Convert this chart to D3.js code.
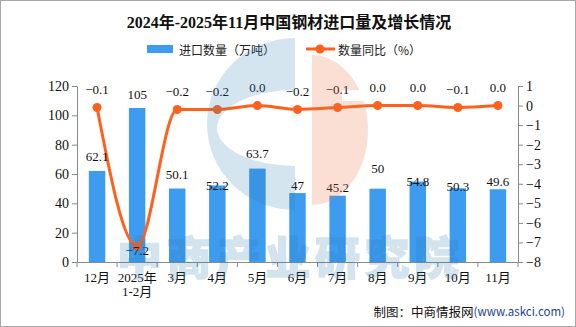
<!DOCTYPE html>
<html><head><meta charset="utf-8">
<script src="https://cdn.jsdelivr.net/npm/d3@7"></script>
<style>html,body{margin:0;padding:0;background:#fff;}svg{display:block}</style>
</head><body><svg id="c" width="576" height="327"></svg>
<script>
// ---- data ----
const categories = ["12月","2025年\n1-2月","3月","4月","5月","6月","7月","8月","9月","10月","11月"];
const importVolume = [62.1,105,50.1,52.2,63.7,47,45.2,50,54.8,50.3,49.6];
const yoyChange = [-0.1,-7.2,-0.2,-0.2,0.0,-0.2,-0.1,0.0,0.0,-0.1,0.0];
const leftTicks = [0,20,40,60,80,100,120];
const rightTicks = [1,0,-1,-2,-3,-4,-5,-6,-7,-8];
const seriesNames = ["进口数量（万吨）","数量同比（%）"];
const titleText = "2024年-2025年11月中国钢材进口量及增长情况";
// label layout nudges (px, vertical offset of each bar label centre from bar top)
const barLabelNudge = [-14,-14,-14,0,-15,-8,-8,-20,0,-2,-8];

// ---- setup ----
const W=576,H=327;
const m={l:77,r:518,t:86,b:262};
const NUM="'Liberation Serif','Noto Sans CJK SC',serif";
const CJK="'Noto Sans CJK SC',sans-serif";
const BAR="#3e9cf0", LINE="#ff611d", AX="#8a8a8a";
const svg=d3.select("#c");

svg.append("rect").attr("x",0.5).attr("y",0.5).attr("width",W-1).attr("height",H-1)
  .attr("fill","#fff").attr("stroke","#a8a8a8");

const x=d3.scaleBand().domain(categories).range([m.l,m.r]);
const yL=d3.scaleLinear().domain([0,120]).range([m.b,m.t]);
const yR=d3.scaleLinear().domain([-8,1]).range([m.b,m.t]);
const cx=c=>x(c)+x.bandwidth()/2;
const bw=x.bandwidth()*0.41;

// title
svg.append("text").attr("x",289).attr("y",22).attr("text-anchor","middle")
  .attr("dominant-baseline","central").attr("font-family",NUM).attr("font-weight","bold")
  .attr("font-size",16).attr("fill","#111").text(titleText);

// legend
svg.append("rect").attr("x",147).attr("y",45).attr("width",26).attr("height",8).attr("fill",BAR);
svg.append("text").attr("x",179).attr("y",49).attr("dominant-baseline","central")
  .attr("font-family",CJK).attr("font-size",12).attr("fill","#222").text(seriesNames[0]);
svg.append("line").attr("x1",306).attr("x2",335).attr("y1",49).attr("y2",49)
  .attr("stroke",LINE).attr("stroke-width",3);
svg.append("circle").attr("cx",320).attr("cy",49).attr("r",4.5).attr("fill",LINE);
svg.append("text").attr("x",338).attr("y",49).attr("dominant-baseline","central")
  .attr("font-family",CJK).attr("font-size",12).attr("fill","#222").text(seriesNames[1]);

// left axis
const gl=svg.append("g").attr("transform",`translate(${m.l},0)`)
  .call(d3.axisLeft(yL).tickValues(leftTicks).tickSize(5).tickSizeOuter(0).tickPadding(3));
// right axis
const gr=svg.append("g").attr("transform",`translate(${m.r},0)`)
  .call(d3.axisRight(yR).tickValues(rightTicks).tickSize(5).tickSizeOuter(0).tickPadding(3));
[gl,gr].forEach(g=>{
  g.selectAll("path,line").attr("stroke",AX);
  g.selectAll("text").attr("font-family",NUM).attr("font-size",14).attr("fill","#111");
});

// bars
svg.append("g").selectAll("rect").data(importVolume).join("rect")
  .attr("x",(d,i)=>cx(categories[i])-bw/2).attr("width",bw)
  .attr("y",d=>yL(d)).attr("height",d=>yL(0)-yL(d)).attr("fill",BAR);

// x axis
const gx=svg.append("g").attr("transform",`translate(0,${m.b})`)
  .call(d3.axisBottom(x).tickSize(0).tickSizeOuter(0));
gx.select(".domain").attr("stroke",AX);
gx.selectAll(".tick text").each(function(d){
  const t=d3.select(this); const lines=d.split("\n"); t.text(null);
  lines.forEach((l,i)=>t.append("tspan").attr("x",0).attr("dy",i?"14px":"0.71em").text(l));
}).attr("y",11).attr("dy",null).attr("font-family",NUM).attr("font-size",13).attr("fill","#111");
svg.append("g").selectAll("line").data(categories.map(c=>x(c)).concat([m.r])).join("line")
  .attr("x1",d=>d).attr("x2",d=>d).attr("y1",m.b).attr("y2",m.b+5).attr("stroke",AX);

// line
const pts=yoyChange.map((v,i)=>[cx(categories[i]),yR(v)]);
svg.append("path").attr("d",d3.line().curve(d3.curveMonotoneX)(pts))
  .attr("fill","none").attr("stroke",LINE).attr("stroke-width",3);
svg.append("g").selectAll("circle").data(pts).join("circle")
  .attr("cx",d=>d[0]).attr("cy",d=>d[1]).attr("r",4.5).attr("fill",LINE);

// bar labels
const fmt=d3.format(".1f");
svg.append("g").selectAll("text").data(importVolume).join("text")
  .attr("x",(d,i)=>cx(categories[i])).attr("y",(d,i)=>yL(d)+barLabelNudge[i])
  .attr("text-anchor","middle").attr("dominant-baseline","central")
  .attr("font-family",NUM).attr("font-size",13).attr("fill","#111").text(d=>String(d));
// line labels
const minV=d3.min(yoyChange);
svg.append("g").selectAll("text").data(yoyChange).join("text")
  .attr("x",(d,i)=>cx(categories[i])).attr("y",d=>yR(d)+(d===minV?4.5:-18))
  .attr("text-anchor","middle").attr("dominant-baseline","central")
  .attr("font-family",NUM).attr("font-size",13).attr("fill","#111").text(d=>fmt(d));

// watermark
const defs=svg.append("defs");
const mask=defs.append("mask").attr("id","om");
mask.append("rect").attr("x",0).attr("y",0).attr("width",W).attr("height",H).attr("fill","#fff");
mask.append("rect").attr("x",342).attr("y",90).attr("width",40).attr("height",11).attr("fill","#000");
const wm=svg.append("g").attr("pointer-events","none");
wm.append("path").attr("fill-rule","evenodd")
  .attr("d","M295,38 A88,86 0 0 0 295,210 Z M295,90 A78,38 0 0 0 295,166 Z")
  .attr("fill","#2a7bb0").attr("opacity",0.2);
wm.append("path").attr("mask","url(#om)")
  .attr("d","M312,55 A56,75 0 0 1 312,205 Z")
  .attr("fill","#f07040").attr("opacity",0.22);
wm.append("text").attr("x",117).attr("y",255).attr("dominant-baseline","central")
  .attr("textLength",342).attr("lengthAdjust","spacing")
  .attr("font-family",CJK).attr("font-weight","900").attr("font-size",45)
  .attr("stroke","#2a7bb0").attr("stroke-width",1.5)
  .attr("fill","#2a7bb0").attr("opacity",0.2).text("中商产业研究院");

// footer
const ft=svg.append("text").attr("x",565).attr("y",311).attr("text-anchor","end")
  .attr("dominant-baseline","central").attr("font-family",CJK);
ft.append("tspan").attr("font-size",12.5).attr("fill","#111").text("制图：中商情报网");
ft.append("tspan").attr("font-size",11.5).attr("fill","#1e3f9c").text("(www.askci.com)");
</script></body></html>
